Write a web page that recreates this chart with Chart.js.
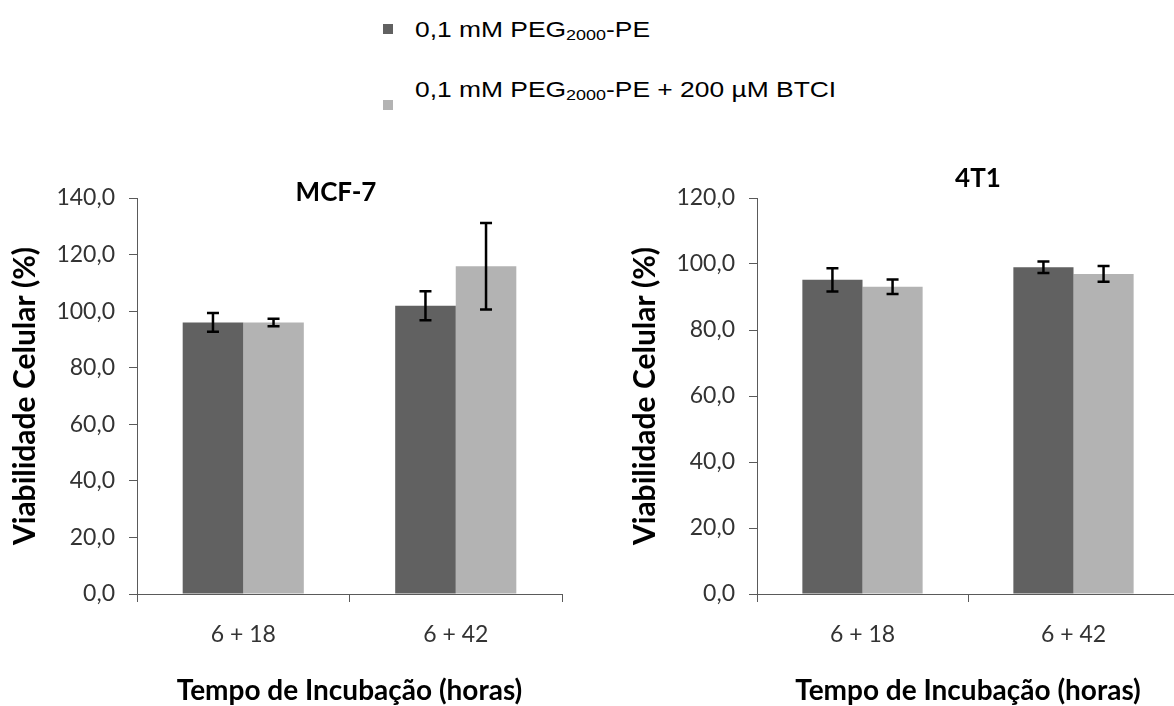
<!DOCTYPE html>
<html>
<head>
<meta charset="utf-8">
<script src="https://cdn.jsdelivr.net/npm/chart.js@4.4.1/dist/chart.umd.min.js"></script>
<style>
  html, body { margin: 0; padding: 0; background: #fff; overflow: hidden; width: 1174px; height: 706px; }
  #legend { position: absolute; left: 0; top: 0; font-family: "Liberation Sans", Arial, sans-serif; font-size: 22px; line-height: 22px; color: #000; }
  .leg-box { position: absolute; width: 10px; height: 10px; }
  .leg-text { position: absolute; white-space: nowrap; transform: scaleX(1.2); transform-origin: left center; }
  .leg-text sub { font-size: 0.68em; vertical-align: -3px; line-height: 0; }
  .wrap { position: absolute; top: 150px; width: 600px; height: 556px; }
</style>
</head>
<body>
<div id="legend"></div>
<div class="wrap" style="left:0"><canvas id="mcf"></canvas></div>
<div class="wrap" style="left:620px"><canvas id="t1"></canvas></div>

<script>
// categories + series
const categories = ['6 + 18', '6 + 42'];
const seriesNames = ['0,1 mM PEG2000-PE', '0,1 mM PEG2000-PE + 200 µM BTCI'];
const seriesLegend = ['0,1 mM PEG<sub>2000</sub>-PE', '0,1 mM PEG<sub>2000</sub>-PE + 200 µM BTCI'];
const seriesColors = ['#616161', '#b3b3b3'];

// MCF-7
const mcfPeg = [96.0, 101.9];
const mcfPegErr = [3.3, 5.1];
const mcfBtci = [96.0, 115.9];
const mcfBtciErr = [1.3, 15.3];

// 4T1
const t1Peg = [95.2, 99.0];
const t1PegErr = [3.5, 1.75];
const t1Btci = [93.1, 97.0];
const t1BtciErr = [2.2, 2.4];

const yTitle = 'Viabilidade Celular (%)';
const xTitle = 'Tempo de Incubação (horas)';

// legend (html so the subscript works)
const legend = document.getElementById('legend');
const legendRows = [{ text: 19, box: 24 }, { text: 79, box: 100 }];
seriesLegend.forEach((txt, i) => {
  const box = document.createElement('div');
  box.className = 'leg-box';
  box.style.left = '383px';
  box.style.top = legendRows[i].box + 'px';
  box.style.background = seriesColors[i];
  const t = document.createElement('div');
  t.className = 'leg-text';
  t.style.left = '415px';
  t.style.top = legendRows[i].text + 'px';
  t.innerHTML = txt;
  legend.appendChild(box);
  legend.appendChild(t);
});

// error bars
const errorBars = {
  id: 'errorBars',
  afterDatasetsDraw(chart) {
    const { ctx } = chart;
    const y = chart.scales.y;
    ctx.save();
    ctx.strokeStyle = '#000';
    ctx.lineWidth = 2.5;
    chart.data.datasets.forEach((ds, i) => {
      chart.getDatasetMeta(i).data.forEach((bar, j) => {
        const v = ds.data[j], e = ds.errors[j];
        const top = y.getPixelForValue(v + e);
        const bot = y.getPixelForValue(v - e);
        ctx.beginPath();
        ctx.moveTo(bar.x, top); ctx.lineTo(bar.x, bot);
        ctx.moveTo(bar.x - 6, top); ctx.lineTo(bar.x + 6, top);
        ctx.moveTo(bar.x - 6, bot); ctx.lineTo(bar.x + 6, bot);
        ctx.stroke();
      });
    });
    ctx.restore();
  }
};

// panel title drawn over the plot top
const panelTitle = {
  id: 'panelTitle',
  afterDraw(chart, args, opts) {
    const { ctx } = chart;
    ctx.save();
    ctx.font = 'bold 26px Lato';
    ctx.fillStyle = '#000';
    ctx.textAlign = 'center';
    ctx.textBaseline = 'middle';
    ctx.fillText(opts.text, opts.x, opts.y);
    ctx.restore();
  }
};

const fmt = v => v.toFixed(1).replace('.', ',');
const axisColor = '#5a5a5a';

function makeChart(id, peg, pegErr, btci, btciErr, yMax, title, padRight) {
  return new Chart(document.getElementById(id), {
    type: 'bar',
    data: {
      labels: categories,
      datasets: [
        { label: seriesNames[0], data: peg, errors: pegErr, backgroundColor: seriesColors[0] },
        { label: seriesNames[1], data: btci, errors: btciErr, backgroundColor: seriesColors[1] }
      ]
    },
    options: {
      responsive: true,
      maintainAspectRatio: false,
      animation: false,
      datasets: { bar: { categoryPercentage: 0.57, barPercentage: 1.0 } },
      layout: { padding: { top: 48, right: padRight, bottom: 0, left: 0 } },
      plugins: {
        legend: { display: false },
        tooltip: { enabled: false },
        panelTitle: title
      },
      scales: {
        x: {
          afterFit(axis) { axis.height = 112; },
          grid: { drawOnChartArea: false, tickLength: 8, color: axisColor },
          border: { color: axisColor, width: 1 },
          ticks: { color: '#333', font: { family: 'Lato', size: 23 }, padding: 19 },
          title: {
            display: true, text: xTitle, color: '#000',
            font: { family: 'Lato', size: 28, weight: 'bold', lineHeight: 1 },
            padding: { top: 0, bottom: 1 }
          }
        },
        y: {
          min: 0, max: yMax,
          afterFit(axis) { axis.width = 137; },
          grid: { drawOnChartArea: false, tickLength: 8, color: axisColor },
          border: { color: axisColor, width: 1 },
          ticks: { stepSize: 20, color: '#333', font: { family: 'Lato', size: 23 }, padding: 14, callback: v => fmt(v) },
          title: {
            display: true, text: yTitle, color: '#000',
            font: { family: 'Lato', size: 30, weight: 'bold', lineHeight: 1 },
            padding: { top: 10, bottom: 0 }
          }
        }
      }
    },
    plugins: [errorBars, panelTitle]
  });
}

makeChart('mcf', mcfPeg, mcfPegErr, mcfBtci, mcfBtciErr, 140, { text: 'MCF-7', x: 336, y: 43 }, 38);
makeChart('t1', t1Peg, t1PegErr, t1Btci, t1BtciErr, 120, { text: '4T1', x: 358, y: 29 }, 41);
</script>
</body>
</html>
